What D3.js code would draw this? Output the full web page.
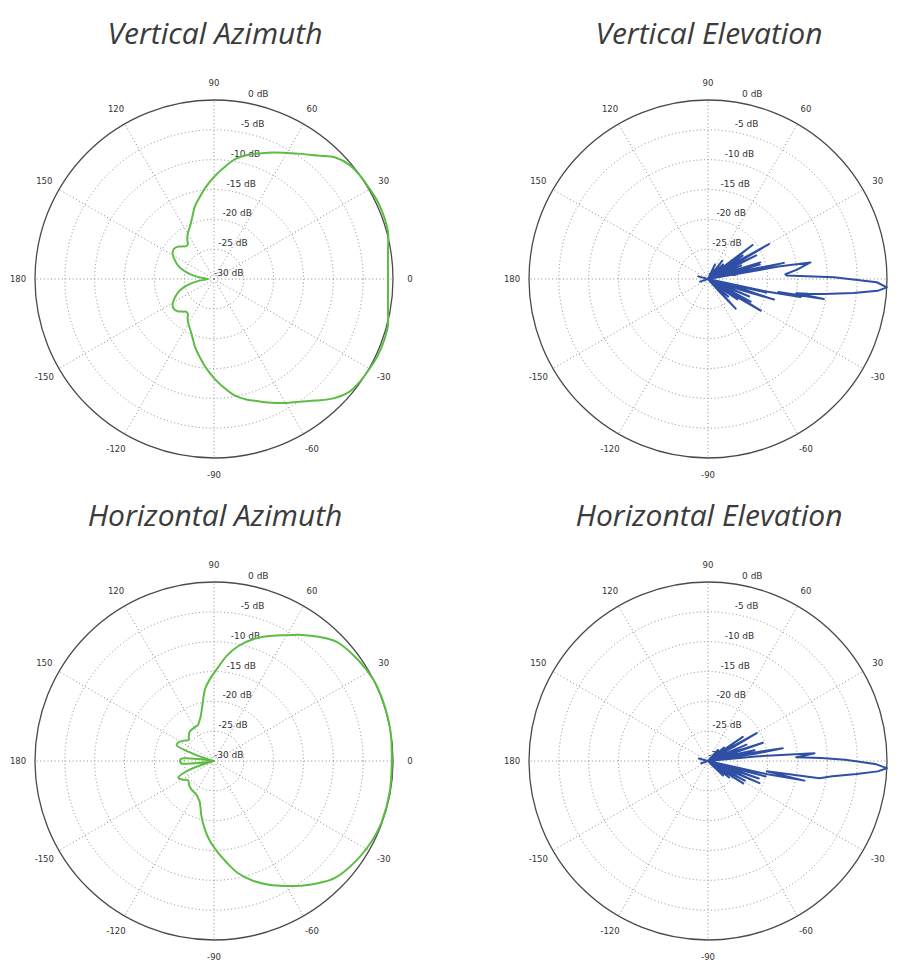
<!DOCTYPE html>
<html>
<head>
<meta charset="utf-8">
<script src="https://cdn.jsdelivr.net/npm/d3@7"></script>
<style>
  html, body { margin: 0; padding: 0; background: #ffffff; }
  svg { display: block; }
</style>
</head>
<body>
<svg id="chart" width="899" height="965"></svg>
<script>
// ---------------- DATA ----------------
const angleTicks = [0, 30, 60, 90, 120, 150, 180, -150, -120, -90, -60, -30];
const dbTicks = [0, -5, -10, -15, -20, -25, -30];
const dbTickLabels = ["0 dB", "-5 dB", "-10 dB", "-15 dB", "-20 dB", "-25 dB", "-30 dB"];
const titles = ["Vertical Azimuth", "Vertical Elevation", "Horizontal Azimuth", "Horizontal Elevation"];

// Vertical Azimuth (green)
const vaAngles = [-177, -173, -168, -163, -158, -153, -148, -143, -138, -134, -130, -127, -124, -120, -115, -110, -105, -100, -95, -90, -85, -80, -75, -70, -65, -60, -55, -50, -45, -40, -35, -30, -25, -20, -15, -10, -5,
  0, 5, 10, 15, 20, 25, 30, 35, 40, 45, 50, 55, 60, 65, 70, 75, 80, 85, 90, 95, 100, 105, 110, 115, 120, 124, 127, 130, 134, 138, 143, 148, 153, 158, 163, 168, 173, 177, 180];
const vaDb = [-28.6, -27.4, -25.8, -24.3, -23.3, -22.5, -21.8, -21.6, -21.9, -22.4, -22.8, -22.7, -22.1, -21.4, -20.6, -19.5, -18.0, -16.6, -15.0, -13.4, -11.8, -10.2, -9.1, -8.2, -7.1, -6.0, -4.9, -3.4, -1.7, -0.5, -0.1, 0.1, 0.3, 0.3, 0.17, -0.39, -0.73,
  -0.84, -0.73, -0.39, 0.2, 0.35, 0.35, 0.15, 0.0, -0.3, -1.2, -3.0, -4.4, -5.6, -6.6, -7.6, -8.5, -9.6, -11.3, -12.9, -14.5, -16.1, -17.5, -19.2, -20.4, -21.2, -22.0, -22.7, -22.8, -22.4, -21.9, -21.6, -21.8, -22.5, -23.3, -24.3, -25.8, -27.4, -28.6, -29.0];

// Horizontal Azimuth (green)
const haAngles = [-171, -168, -164, -160, -155, -150, -143.5, -136, -128, -117, -112, -109, -103, -98, -93, -88, -83, -78, -72, -66, -60, -55, -50, -44, -35, -26, -20, -10,
  0, 10, 20, 27, 35, 44, 50, 55, 61, 67, 72, 78, 83, 88, 93, 97, 100, 103, 107, 111, 114, 120, 129, 136, 140, 146, 152, 157, 160, 164, 168, 171, 174, 176, 180, 184, 186];
const haDb = [-29, -30, -29, -25.5, -23.4, -23.8, -24.6, -24.2, -23.9, -23.6, -23.1, -22.7, -20.6, -18.6, -16.6, -14.8, -12.9, -10.8, -8.9, -7.3, -5.8, -4.5, -3.2, -1.8, -0.9, -0.3, -0.1, -0.1,
  -0.2, 0.0, 0.05, 0.0, -0.5, -1.3, -2.8, -4.2, -5.9, -7.3, -8.5, -10.3, -12.2, -14.5, -16.3, -17.8, -19.5, -21.0, -22.3, -23.0, -23.4, -23.5, -23.6, -24.1, -24.5, -23.9, -23.3, -23.2, -25.5, -29, -30, -29, -26, -24.5, -24.3, -24.5, -26];

// Vertical Elevation (blue) — vertices in drawing order
const veAngles = [-166, -162, -158, -90,
  -49, -48, -47, -46, -45,
  -43, -42, -41, -40, -39,
  -37, -36, -35, -34, -33,
  -32.8, -32, -31, -30, -29.2,
  -29.5, -28.8, -28, -27.2, -26.5,
  -24.8, -24, -23, -22, -21.2,
  -19.2, -18.3, -17.3, -16.3, -15.4,
  -14.8, -14, -13, -12, -11.8,
  -12.8, -12, -11, -10.5, -9.8, -9.2,
  -8.4, -7.4, -5.5, -4, -2.7, -1.1, 0.8, 2.5, 3.5,
  6, 9.2, 10, 10.8,
  11.4, 12, 12.8, 13.6,
  14, 14.8, 15.5, 16.2, 16.6,
  16.2, 16.8, 17.6, 18.5, 19.5,
  20.3, 21.2, 22, 22.8, 23.7,
  24.2, 25.1, 26, 26.9, 27.8,
  28, 29, 29.8, 30.7, 31.6,
  32.3, 33.2, 34, 34.8, 35.6,
  35.7, 36.5, 37.4, 38.3, 39.2,
  42.5, 43.3, 44, 44.7, 45.5,
  50.3, 51, 51.8, 52.6, 53.3,
  63, 63.8, 64.5, 65.2, 66,
  90, 160, 165, 170];
const veDb = [-30, -28.6, -30, -30,
  -30, -27, -23.2, -27, -30,
  -30, -28.5, -25.5, -28.5, -30,
  -30, -28, -24, -28, -30,
  -30, -25, -19.7, -25, -30,
  -30, -27, -21.9, -27, -30,
  -30, -28, -22.5, -28, -30,
  -30, -24, -18.4, -24, -30,
  -30, -26, -20, -26, -30,
  -30, -20, -14.2, -18, -10.3, -15,
  -13, -10.4, -5.5, -1.5, 0, -1.7, -8.9, -16.8, -17,
  -15, -12.6, -18, -30,
  -22, -17, -23, -30,
  -30, -26, -21, -26, -30,
  -30, -26, -20.8, -26, -30,
  -30, -28, -24, -28, -30,
  -30, -26, -21, -26, -30,
  -30, -24, -18.2, -24, -30,
  -30, -28, -23, -28, -30,
  -30, -26, -20.6, -26, -30,
  -30, -29, -26.5, -29, -30,
  -30, -28.5, -26.1, -28.5, -30,
  -30, -29, -27.3, -29, -30,
  -30, -30, -28.3, -30];

// Horizontal Elevation (blue) — vertices in drawing order
const heAngles = [-166, -162, -158, -90,
  -45.5, -44.7, -44, -43.3, -42.5,
  -39.5, -38.7, -38, -37.3, -36.5,
  -34, -33.2, -32.5, -31.8, -31,
  -29.5, -28.7, -28, -27.3, -26.5,
  -24.9, -24.1, -23.3, -22.5, -21.7,
  -20.5, -19.7, -19, -18.3, -17.5,
  -16.5, -15.7, -15, -14.3, -13.5,
  -13.3, -12.5, -11.5, -10,
  -8.8, -7, -5, -3.5, -2.3, -1, 0.5, 1.5, 2.4, 4.1, 5.5,
  8, 8.8, 9.6, 10.4, 11.2,
  11.5, 12.3, 13, 13.7, 14.5,
  16.8, 17.6, 18.4, 19.2, 20,
  21.5, 22.3, 23, 23.7, 24.5,
  28.2, 29, 29.8, 30.6, 31.4,
  33.2, 34, 34.8, 35.6, 36.4,
  38.5, 39.3, 40, 40.7, 41.5,
  46.5, 47.3, 48, 48.7, 49.5,
  90, 160, 165, 170];
const heDb = [-30, -28.8, -30, -30,
  -30, -29, -26.5, -29, -30,
  -30, -28.5, -25.5, -28.5, -30,
  -30, -27, -23, -27, -30,
  -30, -27, -23, -27, -30,
  -30, -25, -20.6, -25, -30,
  -30, -26, -21, -26, -30,
  -30, -25, -20, -25, -30,
  -30, -20, -13.5, -20,
  -11.1, -9, -5, -1.5, 0, -2, -7, -11, -15.2, -12.1, -22,
  -30, -22, -17.3, -22, -30,
  -30, -26, -22, -26, -30,
  -30, -25, -20.3, -25, -30,
  -30, -27, -23, -27, -30,
  -30, -25, -20.6, -25, -30,
  -30, -27, -22.9, -27, -30,
  -30, -28.5, -26.5, -28.5, -30,
  -30, -29.5, -27.5, -29.5, -30,
  -30, -30, -28.4, -30];

// ---------------- DRAW ----------------
const W = 899;
const svg = d3.select("#chart");
const R = 179;
const rScale = d3.scaleLinear().domain([-30, 0]).range([0, R]);
// math angle (deg, CCW from right) -> d3 radial angle (rad, CW from top)
const aScale = d3.scaleLinear().domain([0, 360]).range([Math.PI / 2, Math.PI / 2 - 2 * Math.PI]);

const panels = [
  { cx: 214, cy: 279, title: titles[0], angles: vaAngles, db: vaDb, color: "#5dbc45", width: 2, curve: d3.curveCatmullRomClosed.alpha(0.5) },
  { cx: 708, cy: 279, title: titles[1], angles: veAngles, db: veDb, color: "#2f4fa5", width: 2, curve: d3.curveLinearClosed },
  { cx: 214, cy: 761, title: titles[2], angles: haAngles, db: haDb, color: "#5dbc45", width: 2, curve: d3.curveCatmullRomClosed.alpha(0.5) },
  { cx: 708, cy: 761, title: titles[3], angles: heAngles, db: heDb, color: "#2f4fa5", width: 2, curve: d3.curveLinearClosed }
];

const labelFont = "DejaVu Sans, sans-serif";

panels.forEach(p => {
  const g = svg.append("g").attr("transform", `translate(${p.cx},${p.cy})`);

  // dotted rings
  g.selectAll("circle.ring").data(dbTicks.filter(d => d < 0 && d > -30)).join("circle")
    .attr("r", d => rScale(d))
    .attr("fill", "none").attr("stroke", "#8a8a8a").attr("stroke-width", 1)
    .attr("stroke-dasharray", "1,2.6");

  // dotted spokes
  g.selectAll("line.spoke").data(angleTicks).join("line")
    .attr("x1", 0).attr("y1", 0)
    .attr("x2", d => R * Math.cos(d * Math.PI / 180))
    .attr("y2", d => -R * Math.sin(d * Math.PI / 180))
    .attr("stroke", "#8a8a8a").attr("stroke-width", 1)
    .attr("stroke-dasharray", "1,2.6");

  // outer circle
  g.append("circle").attr("r", rScale(0))
    .attr("fill", "none").attr("stroke", "#4a4a4a").attr("stroke-width", 1.3);

  // angle labels (those falling outside the page are not drawn, as in the reference)
  const visTicks = angleTicks.filter(d => p.cx + 196 * Math.cos(d * Math.PI / 180) < W - 6);
  g.selectAll("text.ang").data(visTicks).join("text")
    .attr("x", d => 196 * Math.cos(d * Math.PI / 180))
    .attr("y", d => -196 * Math.sin(d * Math.PI / 180))
    .attr("text-anchor", "middle").attr("dominant-baseline", "central")
    .attr("font-family", labelFont).attr("font-size", 8.5).attr("fill", "#333")
    .text(d => d);

  // dB labels
  g.selectAll("text.db").data(dbTicks).join("text")
    .attr("x", d => 29.5 + 0.14 * rScale(d))
    .attr("y", d => -rScale(d) - 6)
    .attr("text-anchor", "end").attr("dominant-baseline", "central")
    .attr("font-family", labelFont).attr("font-size", 9).attr("fill", "#333")
    .text((d, i) => dbTickLabels[i]);

  // pattern
  const pts = p.angles.map((a, i) => ({ a: a, v: p.db[i] }));
  const line = d3.lineRadial()
    .angle(d => aScale(d.a))
    .radius(d => Math.max(0, rScale(d.v)))
    .curve(p.curve);
  g.append("path").attr("d", line(pts))
    .attr("fill", "none").attr("stroke", p.color).attr("stroke-width", p.width)
    .attr("stroke-linejoin", "round");

  // title
  svg.append("text")
    .attr("x", p.cx + 1).attr("y", p.cy - 235.5)
    .attr("text-anchor", "middle")
    .attr("font-family", "Open Sans, sans-serif").attr("font-style", "italic")
    .attr("font-size", 30).attr("fill", "#3b3b3b")
    .text(p.title);
});
</script>
</body>
</html>
